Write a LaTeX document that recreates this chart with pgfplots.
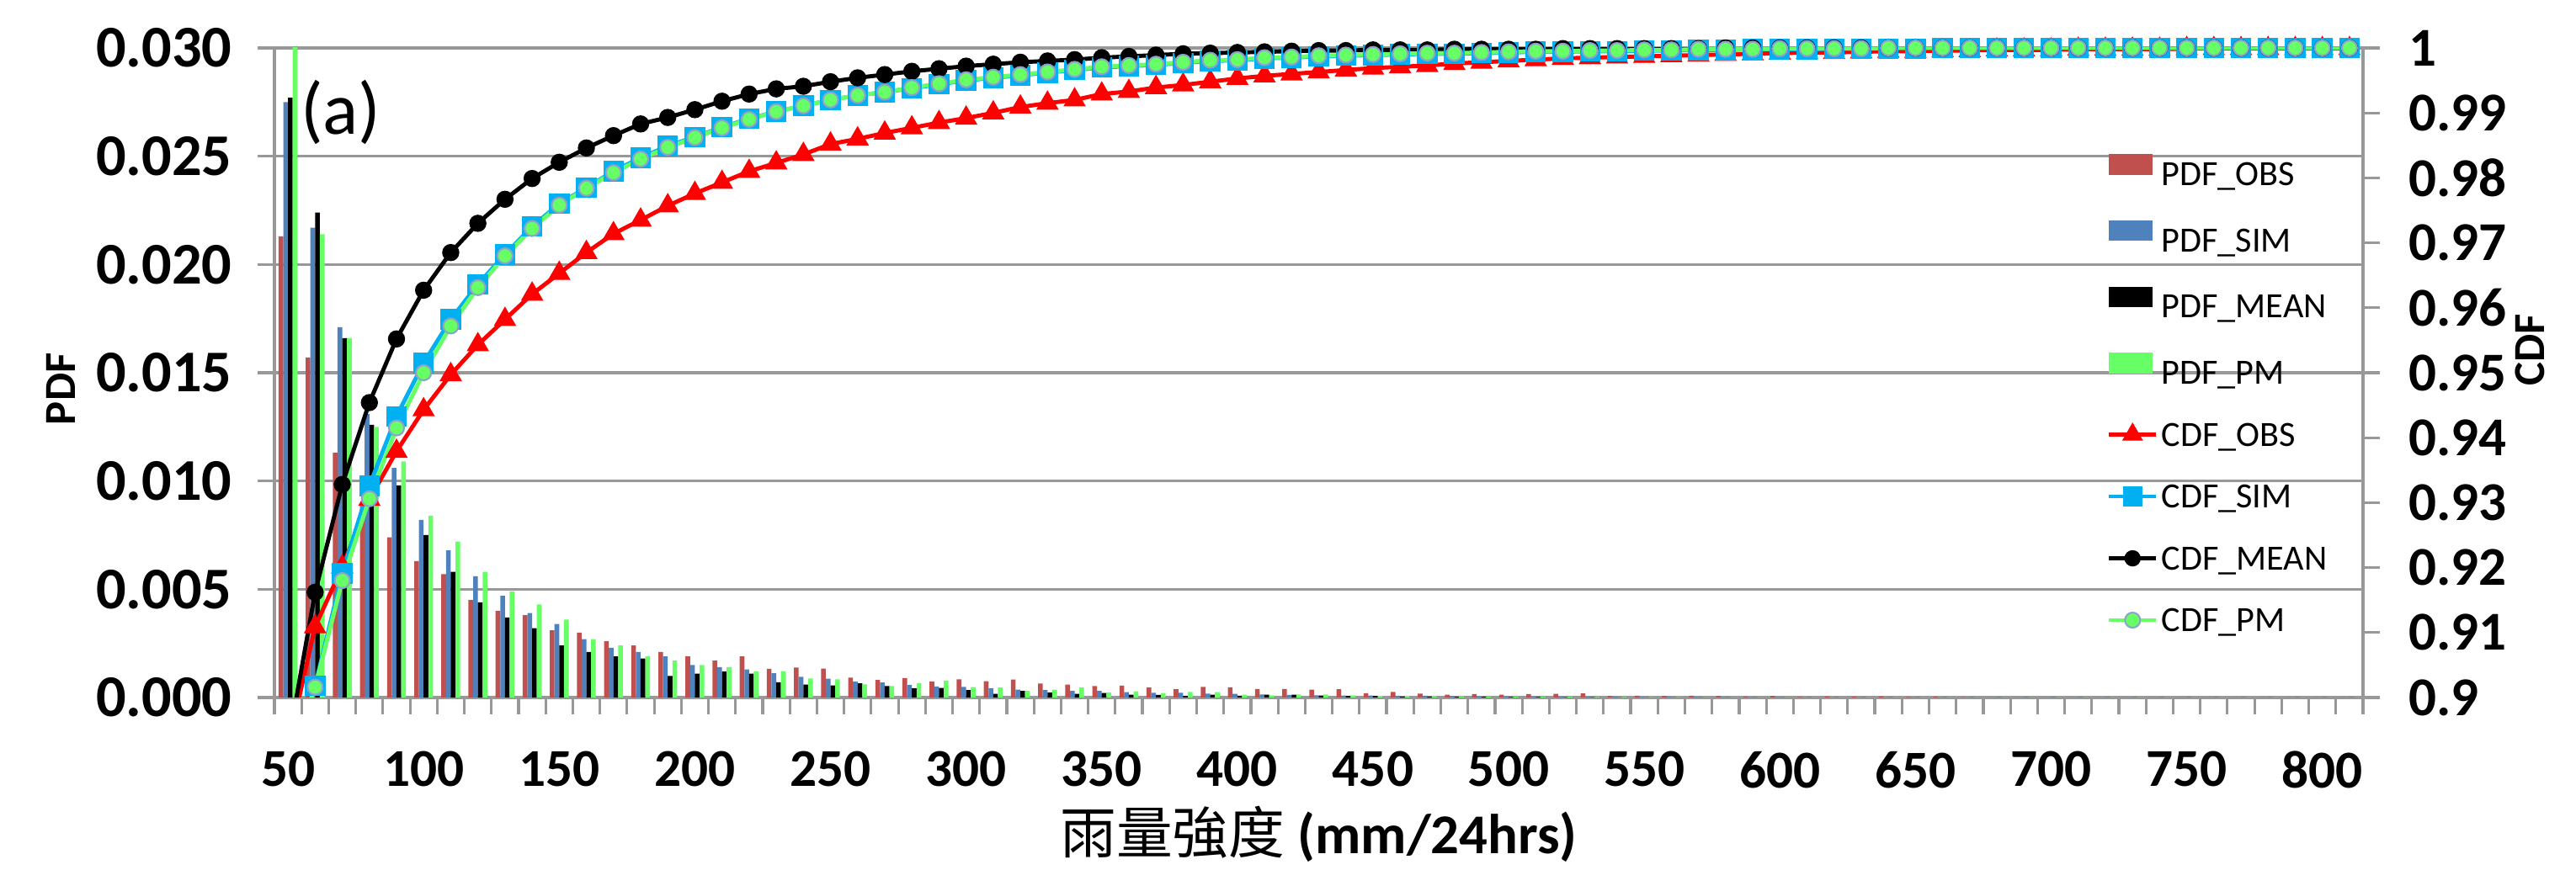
\documentclass[border=0pt]{standalone}
\usepackage{fontspec}
\setmainfont{Carlito}
\newfontfamily\cjk{Noto Sans CJK TC}
\usepackage{pgfplots}
\usepackage{pgfplotstable}
\pgfplotsset{compat=1.18}
\definecolor{pobs}{HTML}{C0504D}
\definecolor{psim}{HTML}{4F81BD}
\definecolor{ppm}{HTML}{66FF66}
\definecolor{csim}{HTML}{00B0F0}
\definecolor{gridc}{HTML}{989898}
\definecolor{pmedge}{HTML}{8EA2CC}

\pgfplotstableread{
x obs sim mean pm
0 0.0213 0.0275 0.0277 0.0305
1 0.0157 0.0217 0.0224 0.0214
2 0.0113 0.0171 0.0166 0.0166
3 0.0089 0.0131 0.0126 0.0125
4 0.0074 0.0106 0.0098 0.0109
5 0.0063 0.0082 0.0075 0.0084
6 0.0057 0.0068 0.0058 0.0072
7 0.0045 0.0056 0.0044 0.0058
8 0.0040 0.0047 0.0037 0.0049
9 0.0038 0.0039 0.0032 0.0043
10 0.0031 0.0034 0.0024 0.0036
11 0.0030 0.0027 0.0021 0.0027
12 0.0026 0.0023 0.0019 0.0024
13 0.0024 0.0021 0.0018 0.0019
14 0.0021 0.0019 0.0010 0.0017
15 0.0019 0.0015 0.0011 0.0015
16 0.0017 0.0014 0.0012 0.0014
17 0.0019 0.0013 0.0011 0.0012
18 0.00133 0.00112 0.00070 0.00120
19 0.00138 0.00096 0.00060 0.00088
20 0.00134 0.00087 0.00056 0.00084
21 0.00092 0.00073 0.00066 0.00061
22 0.00081 0.00069 0.00053 0.00053
23 0.00090 0.00058 0.00043 0.00066
24 0.00074 0.00051 0.00044 0.00078
25 0.00084 0.00049 0.00034 0.00048
26 0.00075 0.00043 0.00017 0.00046
27 0.00083 0.00036 0.00031 0.00031
28 0.00065 0.00034 0.00023 0.00036
29 0.00060 0.00031 0.00017 0.00046
30 0.00053 0.00031 0.00021 0.00023
31 0.00055 0.00025 0.00013 0.00029
32 0.00046 0.00022 0.00012 0.00021
33 0.00038 0.00022 0.00007 0.00026
34 0.00049 0.00018 0.00013 0.00025
35 0.00047 0.00017 0.00008 0.00013
36 0.00039 0.00014 0.00013 0.00010
37 0.00039 0.00012 0.00013 0.00014
38 0.00036 0.00010 0.00009 0.00014
39 0.00038 0.00009 0.00007 0.00010
40 0.00020 0.00009 0.00007 0.00008
41 0.00026 0.00008 0.00004 0.00007
42 0.00018 0.00008 0.00004 0.00006
43 0.00013 0.00006 0.00003 0.00005
44 0.00016 0.00005 0.00003 0.00004
45 0.00013 0.00005 0.00002 0.00004
46 0.00016 0.00004 0.00002 0.00003
47 0.00017 0.00004 0.00001 0.00003
48 0.00019 0.00003 0.00001 0.00002
49 0.00007 0.00003 0 0.00002
50 0.00008 0.00002 0 0.00001
51 0.00007 0.00002 0 0.00001
52 0.00008 0.00002 0 0
53 0.00007 0.00001 0 0
54 0.00004 0.00001 0 0
55 0.00007 0.00001 0 0
56 0.00002 0 0 0
57 0.00005 0 0 0
58 0.00004 0 0 0
59 0.00005 0 0 0
60 0.00002 0 0 0
61 0.00003 0 0 0
62 0.00001 0 0 0
63 0 0 0 0
64 0 0 0 0
65 0 0 0 0
66 0 0 0 0
67 0 0 0 0
68 0 0 0 0
69 0 0 0 0
70 0 0 0 0
71 0 0 0 0
72 0 0 0 0
73 0 0 0 0
74 0 0 0 0
75 0 0 0 0
76 0 0 0 0
}\pdftab

\pgfplotstableread{
x obs sim mean pm
0 0.8924 0.8890 0.8927 0.8890
1 0.9109 0.9018 0.9162 0.9016
2 0.9201 0.9191 0.9328 0.9180
3 0.9305 0.9326 0.9454 0.9306
4 0.9379 0.9433 0.9552 0.9415
5 0.9443 0.9515 0.9627 0.9500
6 0.9497 0.9582 0.9685 0.9572
7 0.9543 0.9636 0.9730 0.9631
8 0.9582 0.9682 0.9767 0.9680
9 0.9621 0.9725 0.9799 0.9722
10 0.9653 0.9760 0.9824 0.9758
11 0.9685 0.9785 0.9846 0.9784
12 0.9714 0.9810 0.9865 0.9808
13 0.9735 0.9831 0.9883 0.9829
14 0.9757 0.9849 0.9893 0.9847
15 0.9776 0.9863 0.9905 0.9862
16 0.9793 0.9878 0.9918 0.9877
17 0.9810 0.9891 0.9929 0.9890
18 0.9823 0.9902 0.9937 0.9902
19 0.9836 0.9911 0.9941 0.9911
20 0.9852 0.9920 0.9948 0.9920
21 0.9860 0.9927 0.9954 0.9927
22 0.9869 0.9932 0.9959 0.9932
23 0.9877 0.9938 0.9964 0.9939
24 0.9885 0.9944 0.9968 0.9945
25 0.9892 0.9950 0.9972 0.9951
26 0.9900 0.9954 0.9975 0.9955
27 0.9909 0.9958 0.9978 0.9959
28 0.9915 0.9962 0.9980 0.9963
29 0.9920 0.9966 0.9982 0.9967
30 0.9929 0.9970 0.9985 0.9971
31 0.9933 0.9972 0.9987 0.9973
32 0.9939 0.9974 0.9989 0.9975
33 0.9943 0.9977 0.9991 0.9978
34 0.9948 0.9980 0.9992 0.9981
35 0.9953 0.9981 0.9993 0.9982
36 0.9957 0.9984 0.9994 0.9985
37 0.9960 0.9985 0.9995 0.9986
38 0.9963 0.9987 0.9996 0.9988
39 0.9966 0.9988 0.9996 0.9989
40 0.9969 0.9989 0.9997 0.9990
41 0.9971 0.9990 0.9997 0.9991
42 0.9973 0.9991 0.9997 0.9992
43 0.9976 0.9991 0.9998 0.9992
44 0.9978 0.9992 0.9998 0.9993
45 0.9980 0.9993 0.9998 0.9994
46 0.9982 0.9994 0.9998 0.9995
47 0.9984 0.9994 0.9999 0.9995
48 0.9985 0.9995 0.9999 0.9996
49 0.9986 0.9995 0.9999 0.9996
50 0.9987 0.9996 0.9999 0.9997
51 0.9988 0.9996 0.9999 0.9997
52 0.9989 0.9997 0.9999 0.9998
53 0.9990 0.9997 1.0000 0.9998
54 0.9991 0.9998 1.0000 0.9998
55 0.9992 0.9998 1.0000 0.9999
56 0.9993 0.9998 1.0000 0.9999
57 0.9993 0.9999 1.0000 0.9999
58 0.9994 0.9999 1.0000 0.9999
59 0.9995 0.9999 1.0000 1.0000
60 0.9995 0.9999 1.0000 1.0000
61 0.9996 1.0000 1.0000 1.0000
62 0.9996 1.0000 1.0000 1.0000
63 0.9997 1.0000 1.0000 1.0000
64 0.9997 1.0000 1.0000 1.0000
65 0.9997 1.0000 1.0000 1.0000
66 0.9998 1.0000 1.0000 1.0000
67 0.9998 1.0000 1.0000 1.0000
68 0.9998 1.0000 1.0000 1.0000
69 0.9998 1.0000 1.0000 1.0000
70 0.9999 1.0000 1.0000 1.0000
71 0.9999 1.0000 1.0000 1.0000
72 0.9999 1.0000 1.0000 1.0000
73 0.9999 1.0000 1.0000 1.0000
74 0.9999 1.0000 1.0000 1.0000
75 0.9999 1.0000 1.0000 1.0000
76 0.9999 1.0000 1.0000 1.0000
}\cdftab

\begin{document}
\begin{tikzpicture}
\useasboundingbox (0,0) rectangle (30.6cm,10.34cm);
% ---------- PDF bars ----------
\begin{axis}[
  at={(3.26cm,2.05cm)}, anchor=south west,
  scale only axis, width=24.81cm, height=7.72cm,
  xmin=-0.5, xmax=76.5, ymin=0, ymax=0.03,
  scaled y ticks=false,
  axis x line*=bottom, axis y line*=left,
  axis line style={draw=gridc, line width=0.9pt, -},
  ybar=0pt, bar width=0.056cm,
  ytick={0,0.005,0.01,0.015,0.02,0.025,0.03},
  yticklabels={0.000,0.005,0.010,0.015,0.020,0.025,0.030},
  xtick={-0.5,0.5,...,76.5},
  xticklabels={50,,,,,100,,,,,150,,,,,200,,,,,250,,,,,300,,,,,350,,,,,400,,,,,450,,,,,500,,,,,550,,,,,600,,,,,650,,,,,700,,,,,750,,,,,800,,,},
  tick align=outside, major tick length=0.2cm,
  tick style={draw=gridc, line width=0.9pt},
  ymajorgrids, major grid style={draw=gridc, line width=0.9pt},
  xticklabel style={font=\fontsize{18}{18}\selectfont\bfseries, xshift=0.1611cm, yshift=-0.40cm, inner sep=1pt},
  yticklabel style={font=\fontsize{20}{20}\selectfont\bfseries, xshift=-0.18cm},
  ylabel={PDF},
  ylabel style={at={(axis description cs:-0.1024,0.475)}, anchor=center, font=\fontsize{15}{15}\selectfont\bfseries},
  xlabel={{\cjk\mdseries 雨量強度} (mm/24hrs)},
  xlabel style={at={(axis description cs:0.5,-0.21)}, anchor=center, inner sep=0pt, font=\fontsize{19}{19}\selectfont\bfseries},
]
\addplot[fill=pobs, draw=none] table[x=x,y=obs]{\pdftab};
\addplot[fill=psim, draw=none] table[x=x,y=sim]{\pdftab};
\addplot[fill=black, draw=none] table[x=x,y=mean]{\pdftab};
\addplot[fill=ppm, draw=none] table[x=x,y=pm]{\pdftab};
\node[font=\fontsize{25}{25}\selectfont] at (rel axis cs:0.0318,0.9016) {(a)};
\end{axis}
% ---------- CDF lines ----------
\begin{axis}[
  at={(3.26cm,2.05cm)}, anchor=south west,
  scale only axis, width=24.81cm, height=7.72cm,
  xmin=-0.5, xmax=76.5, ymin=0.9, ymax=1,
  scaled y ticks=false,
  axis x line=none, axis y line*=right,
  axis line style={draw=gridc, line width=0.9pt, -},
  ytick={0.9,0.91,0.92,0.93,0.94,0.95,0.96,0.97,0.98,0.99,1},
  yticklabels={0.9,0.91,0.92,0.93,0.94,0.95,0.96,0.97,0.98,0.99,1},
  tick align=outside, major tick length=0.2cm,
  tick style={draw=gridc, line width=0.9pt},
  yticklabel style={font=\fontsize{18.5}{18.5}\selectfont\bfseries, xshift=0.22cm},
  ylabel={CDF},
  ylabel style={at={(axis description cs:1.0798,0.535)}, anchor=center, font=\fontsize{15}{15}\selectfont\bfseries},
  legend style={at={(axis description cs:0.8771,0.8374)}, anchor=north west,
    draw=none, fill=none, inner sep=0pt, row sep=0.365cm, column sep=0.04cm,
    font=\fontsize{12}{14}\selectfont,
    nodes={inner sep=0pt, text height=0.32cm, text depth=0.05cm}},
  legend cell align=left,
]
\addlegendimage{legend image code/.code={\fill[pobs] (0cm,0cm) rectangle (0.51cm,0.23cm);}}
\addlegendentry{PDF\_OBS}
\addlegendimage{legend image code/.code={\fill[psim] (0cm,0cm) rectangle (0.51cm,0.23cm);}}
\addlegendentry{PDF\_SIM}
\addlegendimage{legend image code/.code={\fill[black] (0cm,0cm) rectangle (0.51cm,0.23cm);}}
\addlegendentry{PDF\_MEAN}
\addlegendimage{legend image code/.code={\fill[ppm] (0cm,0cm) rectangle (0.51cm,0.23cm);}}
\addlegendentry{PDF\_PM}
\addlegendimage{legend image code/.code={\draw[red, line width=1.4pt] (0cm,0cm) -- (0.56cm,0cm);
   \path[red, mark=triangle*, mark size=0.13cm, mark options={solid, fill=red, draw=red}] plot coordinates {(0.28cm,0cm)};}}
\addlegendentry{CDF\_OBS}
\addlegendimage{legend image code/.code={\draw[csim, line width=1.4pt] (0cm,0cm) -- (0.56cm,0cm);
   \path[csim, mark=square*, mark size=0.11cm, mark options={solid, fill=csim, draw=csim}] plot coordinates {(0.28cm,0cm)};}}
\addlegendentry{CDF\_SIM}
\addlegendimage{legend image code/.code={\draw[black, line width=1.4pt] (0cm,0cm) -- (0.56cm,0cm);
   \path[black, mark=*, mark size=0.09cm, mark options={solid, fill=black, draw=black}] plot coordinates {(0.28cm,0cm)};}}
\addlegendentry{CDF\_MEAN}
\addlegendimage{legend image code/.code={\draw[ppm, line width=1.4pt] (0cm,0cm) -- (0.56cm,0cm);
   \path[ppm, mark=*, mark size=0.09cm, mark options={solid, fill=ppm, draw=pmedge, line width=0.6pt}] plot coordinates {(0.28cm,0cm)};}}
\addlegendentry{CDF\_PM}
% OBS
\addplot[red, line width=1.4pt, forget plot] table[x=x,y=obs]{\cdftab};
\addplot[only marks, mark=triangle*, mark size=0.14cm, mark options={fill=red, draw=red}, skip coords between index={0}{1}, forget plot] table[x=x,y=obs]{\cdftab};
% SIM
\addplot[csim, line width=1.4pt, forget plot] table[x=x,y=sim]{\cdftab};
\addplot[only marks, mark=square*, mark size=0.115cm, mark options={fill=csim, draw=csim}, skip coords between index={0}{1}, forget plot] table[x=x,y=sim]{\cdftab};
% MEAN
\addplot[black, line width=1.4pt, forget plot] table[x=x,y=mean]{\cdftab};
\addplot[only marks, mark=*, mark size=0.095cm, mark options={fill=black, draw=black}, skip coords between index={0}{1}, forget plot] table[x=x,y=mean]{\cdftab};
% PM
\addplot[ppm, line width=1.4pt, forget plot] table[x=x,y=pm]{\cdftab};
\addplot[only marks, mark=*, mark size=0.09cm, mark options={fill=ppm, draw=pmedge, line width=0.6pt}, skip coords between index={0}{1}, forget plot] table[x=x,y=pm]{\cdftab};
\end{axis}
\end{tikzpicture}
\end{document}
